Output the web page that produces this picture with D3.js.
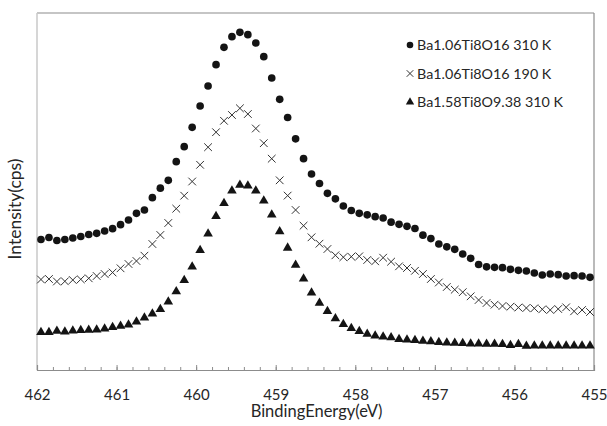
<!DOCTYPE html>
<html><head><meta charset="utf-8">
<script src="https://cdn.jsdelivr.net/npm/d3@7"></script>
<style>
html,body{margin:0;padding:0;background:#fff;}
svg{display:block;}
text{font-family:Lato,"Open Sans",sans-serif;fill:#262626;}
</style></head>
<body>
<svg id="chart" width="607" height="426"></svg>
<script>
// Binding energy (eV), 0.1 eV steps from 461.95 down to 455.05
const energies = d3.range(70).map(i => +(461.95 - 0.1 * i).toFixed(2));
// Intensities (arbitrary cps units)
const seriesNames = ["Ba1.06Ti8O16 310 K", "Ba1.06Ti8O16 190 K", "Ba1.58Ti8O9.38 310 K"];
const ba106_310K = [130.5,132.5,129.5,130.5,132,133.5,135.5,136.7,139,141.3,145.3,150,156.7,160,172.3,181.8,189.7,208.3,223.3,242.7,264,284,305.3,322.7,333.3,337.7,335.3,327,313.3,292,270.7,252.5,231.2,211.3,196,186.5,176.7,171.2,164,159.5,156.7,155.2,153.3,152,147.8,145.7,143.7,141.5,134.8,131.4,126,123.2,120.7,116,111.7,105.5,103.2,102.7,102.3,100.7,99.7,99,97,95,96,95.3,94,94.3,94,92.7];
const ba106_190K = [90.5,91,88.5,88.7,90,90.7,91.7,94,96,97.5,101.7,106,109,114.3,126,135,147,161.3,174.3,188.5,205.2,222.8,237.8,249.2,255,261.7,256,241.5,226.8,211.3,189.7,174.4,160,144.3,132.7,126.3,121,114.7,112.8,113.3,113.7,110,108.7,112.3,108.3,103.7,102,99.2,96,91,87.5,83,80.3,77.8,73.7,70,67,65.3,64,63.3,62.5,62,61.7,60.7,60,61,62.7,58.7,60,58];
const ba158_310K = [37.7,37.7,39,38.3,39.3,39.7,40,40.3,41.3,42.7,44,45.3,48.3,52.3,56.3,60.8,68.3,78.5,89.7,103.3,119.7,136.3,153.7,166.8,179.2,185,184.3,179.2,169.2,155.3,138.5,122.1,105,91.3,77.3,67,58.8,51.5,45.8,41.8,38.8,36,34.3,33.3,32.5,30.8,30.3,29.7,29,28.5,27.8,27.3,27,26.7,26.3,26.3,26,26,25.7,24.7,25.7,24,24.3,24.3,24.3,24.3,24.3,24.3,24.3,24.3];
const xTicks = [462,461,460,459,458,457,456,455];
const xMinorTicks = d3.range(0, 36).map(i => +(462 - 0.2 * i).toFixed(1));

const svg = d3.select("#chart");
const m = {left:37, right:13, top:13, bottom:56};
const W = 607, H = 426;
const x = d3.scaleLinear().domain([462,455]).range([m.left, W - m.right]);
const y = d3.scaleLinear().domain([0,357]).range([H - m.bottom, m.top]);

// frame
svg.append("line").attr("x1",m.left).attr("x2",W-m.right).attr("y1",m.top).attr("y2",m.top).attr("stroke","#8c8c8c").attr("stroke-width",1.2);
svg.append("line").attr("x1",W-m.right).attr("x2",W-m.right).attr("y1",m.top).attr("y2",H-m.bottom).attr("stroke","#8c8c8c").attr("stroke-width",1.2);
svg.append("line").attr("x1",m.left).attr("x2",m.left).attr("y1",m.top).attr("y2",H-m.bottom).attr("stroke","#c8c8c8").attr("stroke-width",1.5);

// x axis
const ax = svg.append("g").attr("transform",`translate(0,${H-m.bottom})`);
ax.call(d3.axisBottom(x).tickValues(xMinorTicks).tickSize(-3).tickFormat(""))
  .call(g => g.select(".domain").remove())
  .call(g => g.selectAll("line").attr("stroke","#8c8c8c"));
const ax2 = svg.append("g").attr("transform",`translate(0,${H-m.bottom})`);
ax2.call(d3.axisBottom(x).tickValues(xTicks).tickSize(-5).tickPadding(19).tickFormat(d3.format("d")))
  .call(g => g.select(".domain").attr("stroke","#8c8c8c").attr("stroke-width",1.2))
  .call(g => g.selectAll("line").attr("stroke","#8c8c8c"))
  .call(g => g.selectAll("text").style("font-size","15px").style("font-family","Lato, sans-serif").attr("fill","#262626"));

svg.append("text").attr("x", (m.left + W - m.right)/2 + 1).attr("y", 417).attr("text-anchor","middle")
  .style("font-size","16.5px").text("BindingEnergy(eV)");
svg.append("text").attr("transform","translate(21,209) rotate(-90)").attr("text-anchor","middle")
  .style("font-size","17.5px").text("Intensity(cps)");

const col = "#141414";
const sym = {
  circle: d3.symbol().type(d3.symbolCircle).size(46),
  tri: d3.symbol().type(d3.symbolTriangle).size(40),
  cross: d3.symbol().type(d3.symbolX).size(40)
};
function draw(vals, type){
  const g = svg.append("g");
  g.selectAll("path").data(vals).join("path")
    .attr("transform",(d,i)=>`translate(${x(energies[i])},${y(d)})`)
    .attr("d", sym[type])
    .attr("fill", type==="cross" ? "none" : col)
    .attr("stroke", type==="cross" ? "#333" : "none")
    .attr("stroke-width", 1);
}
draw(ba106_310K, "circle");
draw(ba106_190K, "cross");
draw(ba158_310K, "tri");

// legend
const lg = svg.append("g");
const types = ["circle","cross","tri"];
const lgSym = {
  circle: d3.symbol().type(d3.symbolCircle).size(34),
  tri: d3.symbol().type(d3.symbolTriangle).size(30),
  cross: d3.symbol().type(d3.symbolX).size(30)
};
seriesNames.forEach((n,i)=>{
  const yy = 45 + i*28.5;
  lg.append("path").attr("transform",`translate(410,${yy})`).attr("d", lgSym[types[i]])
    .attr("fill", types[i]==="cross" ? "none" : col).attr("stroke", types[i]==="cross" ? "#333" : "none");
  lg.append("text").attr("x",417).attr("y",yy+5).style("font-size","14.3px").text(n);
});
</script>
</body></html>
